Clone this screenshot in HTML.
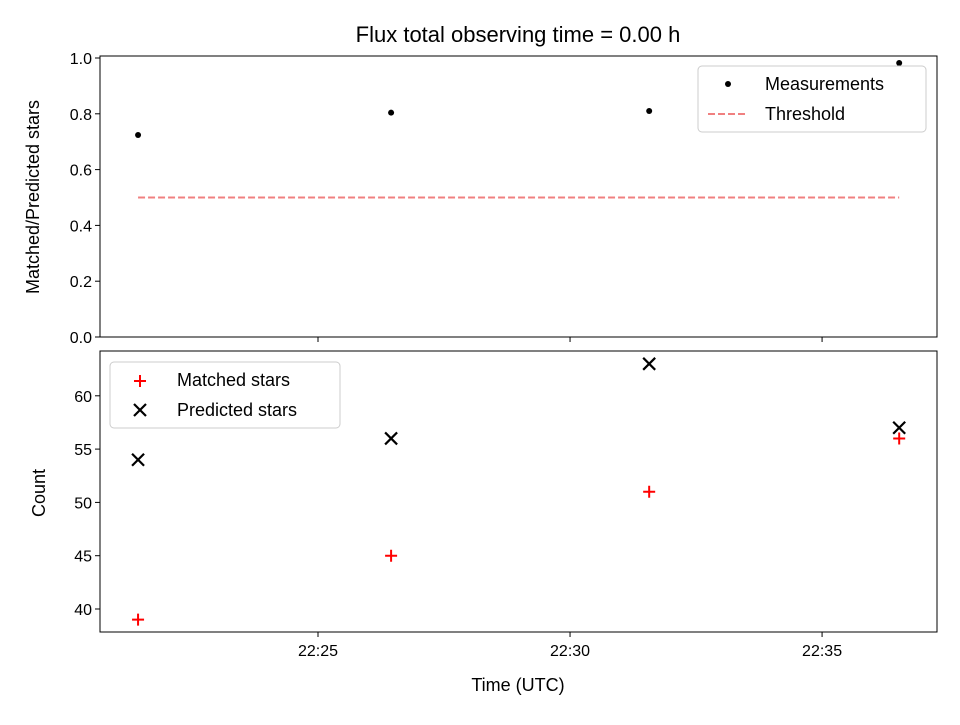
<!DOCTYPE html>
<html><head><meta charset="utf-8"><style>
html,body{margin:0;padding:0;background:#fff;}
svg text{font-family:"Liberation Sans","DejaVu Sans",sans-serif;fill:#000;}
</style></head><body>
<svg id="chart" width="960" height="720" xmlns="http://www.w3.org/2000/svg">
<rect width="960" height="720" fill="#fff"/>
<text x="518" y="42" font-size="22" text-anchor="middle">Flux total observing time = 0.00 h</text>
<g id="topPanel"></g>
<g id="botPanel"></g>
<text x="518" y="691" font-size="18" text-anchor="middle">Time (UTC)</text>
<text transform="translate(39,197) rotate(-90)" font-size="18" text-anchor="middle">Matched/Predicted stars</text>
<text transform="translate(45,493) rotate(-90)" font-size="18" text-anchor="middle">Count</text>
</svg>
<script>
const times = [21.43, 26.45, 31.57, 36.53]; // minutes after 22:00
const ratios = [0.724, 0.804, 0.810, 0.982];
const matched = [39, 45, 51, 56];
const predicted = [54, 56, 63, 57];
const threshold = 0.5;
const xTicks = [25, 30, 35];
const xTickLabels = ["22:25", "22:30", "22:35"];
const topTicks = [0, 0.2, 0.4, 0.6, 0.8, 1.0];
const botTicks = [40, 45, 50, 55, 60];

const NS = "http://www.w3.org/2000/svg";
function mk(parent, tag, attrs, text) {
  const e = document.createElementNS(NS, tag);
  for (const k in attrs) e.setAttribute(k, attrs[k]);
  if (text !== undefined) e.textContent = text;
  parent.appendChild(e);
  return e;
}
const L = 100, R = 937;
const x = m => L + (m - 20.675) / (37.28 - 20.675) * (R - L);
const yT = v => 337 - v * 279;
const yB = v => 609 - (v - 40) * (53.3 / 5);

const topG = document.getElementById('topPanel');
const botG = document.getElementById('botPanel');

function frame(g, y0, y1, name) {
  const r = mk(g, 'rect', {x: L, y: y0, width: R - L, height: y1 - y0, fill: 'none', stroke: '#000', 'stroke-width': 1});
  
  
}
frame(topG, 56, 337, 'top-axes-frame');
frame(botG, 351, 632, 'bottom-axes-frame');

xTicks.forEach((t, i) => {
  const l1 = mk(topG, 'line', {x1: x(t), x2: x(t), y1: 337, y2: 342, stroke: '#000'});
  
  
  const l2 = mk(botG, 'line', {x1: x(t), x2: x(t), y1: 632, y2: 637, stroke: '#000'});
  
  
  const tx = mk(botG, 'text', {x: x(t), y: 656, 'font-size': 16, 'text-anchor': 'middle'}, xTickLabels[i]);
  
  
});
topTicks.forEach(t => {
  const l = mk(topG, 'line', {x1: L - 5, x2: L, y1: yT(t), y2: yT(t), stroke: '#000'});
  
  
  const tx = mk(topG, 'text', {x: L - 8, y: yT(t) + 6, 'font-size': 16, 'text-anchor': 'end'}, t.toFixed(1));
  
  
});
botTicks.forEach(t => {
  const l = mk(botG, 'line', {x1: L - 5, x2: L, y1: yB(t), y2: yB(t), stroke: '#000'});
  
  
  const tx = mk(botG, 'text', {x: L - 8, y: yB(t) + 6, 'font-size': 16, 'text-anchor': 'end'}, String(t));
  
  
});

const th = mk(topG, 'line', {x1: x(times[0]), x2: x(times[times.length - 1]), y1: yT(threshold), y2: yT(threshold), stroke: '#f08080', 'stroke-width': 2, 'stroke-dasharray': '7,3'});



times.forEach((t, i) => {
  const c = mk(topG, 'circle', {cx: x(t), cy: yT(ratios[i]), r: 3, fill: '#000'});
  
  
  const px = x(t), pm = yB(matched[i]);
  const p = mk(botG, 'path', {d: `M${px-6},${pm}H${px+6}M${px},${pm-6}V${pm+6}`, stroke: '#f00', 'stroke-width': 2, fill: 'none'});
  
  
  const pp = yB(predicted[i]);
  const q = mk(botG, 'path', {d: `M${px-6},${pp-6}L${px+6},${pp+6}M${px-6},${pp+6}L${px+6},${pp-6}`, stroke: '#000', 'stroke-width': 2.2, fill: 'none'});
  
  
});

const lg1 = mk(topG, 'g', {});


mk(lg1, 'rect', {x: 698, y: 66, width: 228, height: 66, rx: 4, fill: '#fff', stroke: '#ccc'});
mk(lg1, 'circle', {cx: 728, cy: 84, r: 3, fill: '#000'});
mk(lg1, 'text', {x: 765, y: 90, 'font-size': 18}, 'Measurements');
mk(lg1, 'line', {x1: 708, x2: 748, y1: 114, y2: 114, stroke: '#f08080', 'stroke-width': 2, 'stroke-dasharray': '7,3'});
mk(lg1, 'text', {x: 765, y: 120, 'font-size': 18}, 'Threshold');

const lg2 = mk(botG, 'g', {});


mk(lg2, 'rect', {x: 110, y: 362, width: 230, height: 66, rx: 4, fill: '#fff', stroke: '#ccc'});
mk(lg2, 'path', {d: 'M134,381H146M140,375V387', stroke: '#f00', 'stroke-width': 2});
mk(lg2, 'text', {x: 177, y: 386, 'font-size': 18}, 'Matched stars');
mk(lg2, 'path', {d: 'M134,404L146,416M134,416L146,404', stroke: '#000', 'stroke-width': 2.2});
mk(lg2, 'text', {x: 177, y: 416, 'font-size': 18}, 'Predicted stars');
</script>
</body></html>
